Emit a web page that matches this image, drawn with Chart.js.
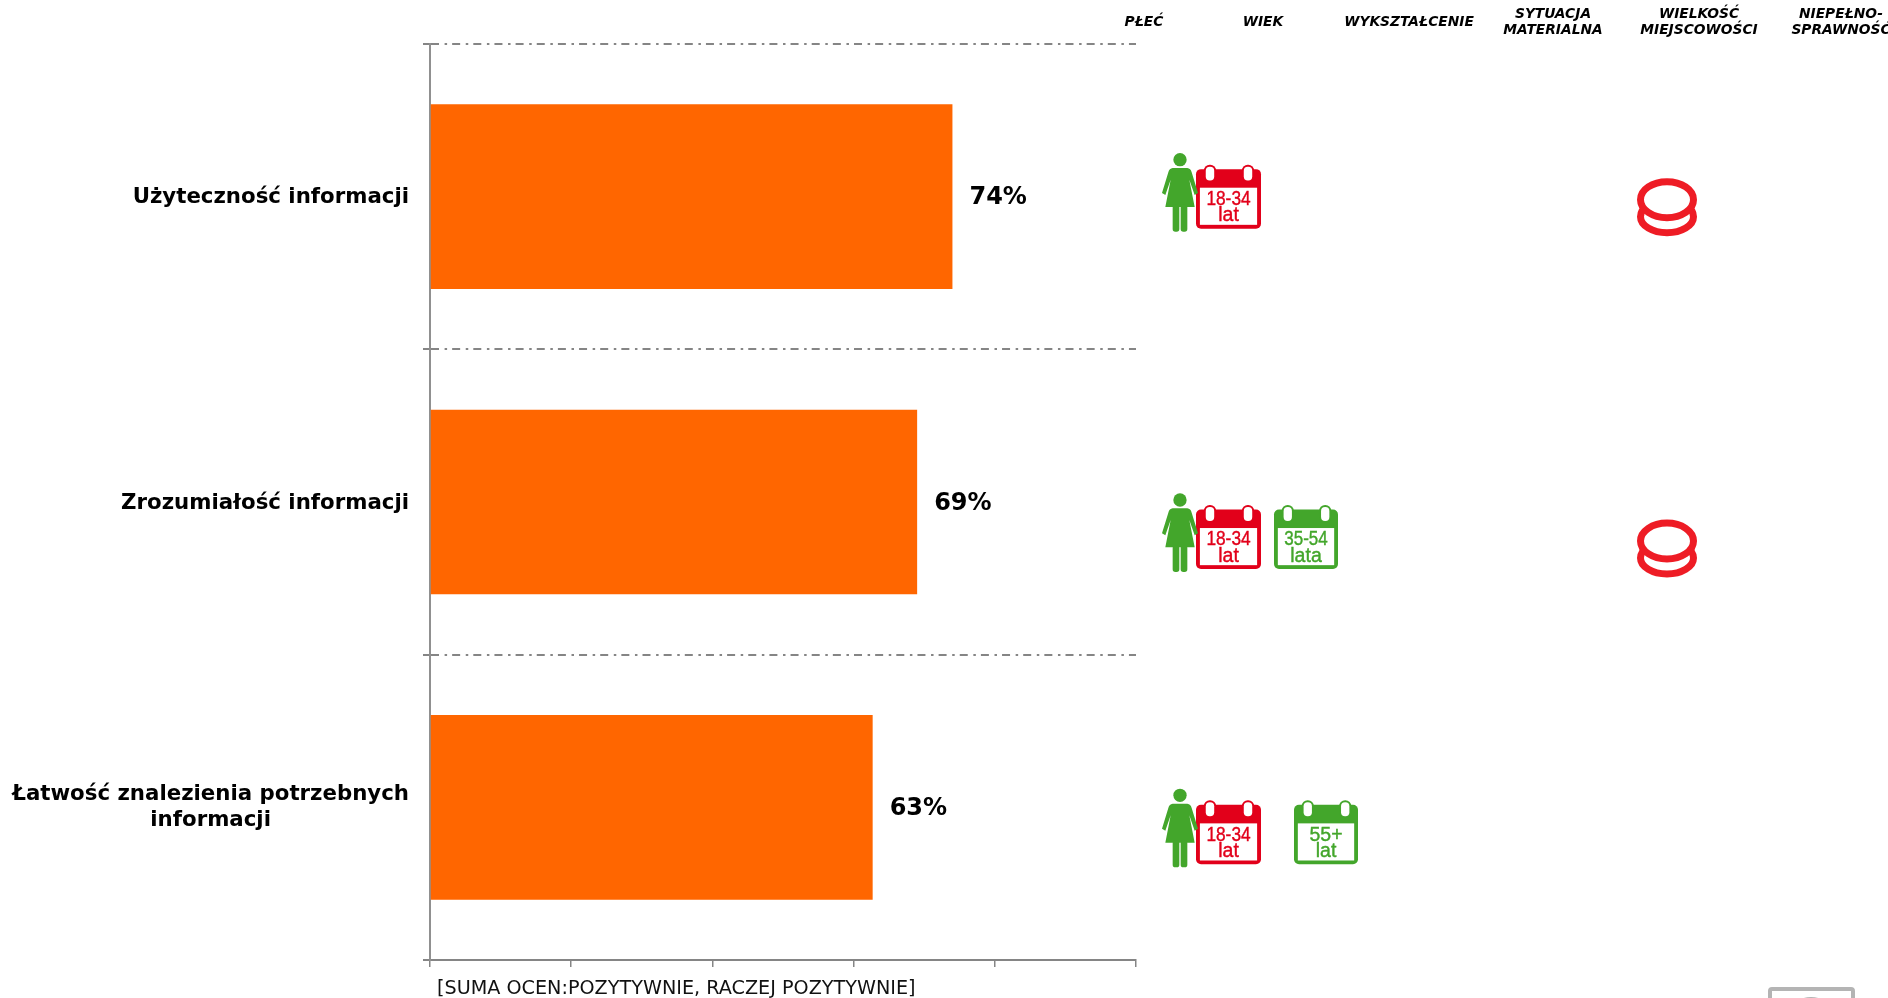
<!DOCTYPE html>
<html lang="pl">
<head>
<meta charset="utf-8">
<style>html,body{margin:0;padding:0;background:#fff;overflow:hidden}canvas{display:block}</style>
<script src="https://cdn.jsdelivr.net/npm/chart.js@4"></script>
</head>
<body>
<canvas id="c" width="1888" height="998"></canvas>
<script>
const categories = [
  ["Użyteczność informacji"],
  ["Zrozumiałość informacji"],
  ["Łatwość znalezienia potrzebnych", "informacji"]
];
const values = [74, 69, 62.7];
const axisNote = "[SUMA OCEN:POZYTYWNIE, RACZEJ POZYTYWNIE]";
const columnHeaders = [
  ["PŁEĆ"], ["WIEK"], ["WYKSZTAŁCENIE"], ["SYTUACJA", "MATERIALNA"],
  ["WIELKOŚĆ", "MIEJSCOWOŚCI"], ["NIEPEŁNO-", "SPRAWNOŚĆ"]
];
const FONT = '"DejaVu Sans", Verdana, sans-serif';
const RED = "#E2001A", GREEN = "#43A62B", COIN = "#EE1C25", GRID = "#858585";

function calendar(ctx, x, y, w, h, color, l1, l2) {
  ctx.save();
  ctx.fillStyle = color;
  ctx.beginPath();
  ctx.roundRect(x, y + 0.07 * h, w, 0.93 * h, 5);
  ctx.fill();
  ctx.fillStyle = "#fff";
  ctx.fillRect(x + 0.06 * w, y + 0.36 * h, 0.88 * w, 0.58 * h);
  for (const f of [0.15, 0.735]) {
    ctx.beginPath();
    ctx.roundRect(x + f * w - 2, y, 0.13 * w + 4, 0.28 * h, 6);
    ctx.fillStyle = color;
    ctx.fill();
    ctx.beginPath();
    ctx.roundRect(x + f * w, y + 2, 0.13 * w, 0.28 * h - 4, 4);
    ctx.fillStyle = "#fff";
    ctx.fill();
  }
  ctx.fillStyle = color;
  ctx.strokeStyle = color;
  ctx.lineWidth = 0.4;
  ctx.font = '19.5px "Liberation Sans", sans-serif';
  ctx.textAlign = "center";
  ctx.textBaseline = "alphabetic";
  ctx.fillText(l1, x + w / 2, y + 0.63 * h, 0.68 * w);
  ctx.strokeText(l1, x + w / 2, y + 0.63 * h, 0.68 * w);
  ctx.fillText(l2, x + w / 2, y + 0.885 * h, 0.68 * w);
  ctx.strokeText(l2, x + w / 2, y + 0.885 * h, 0.68 * w);
  ctx.restore();
}

function woman(ctx, x, y) {
  ctx.save();
  ctx.translate(x - 40, y - 30);
  ctx.scale(1 / 3, 1 / 3);
  ctx.fillStyle = GREEN;
  ctx.beginPath();
  ctx.arc(120, 90, 20, 0, Math.PI * 2);
  ctx.fill();
  ctx.beginPath();
  ctx.moveTo(98, 115);
  ctx.lineTo(142, 115);
  ctx.quadraticCurveTo(152, 116, 155, 128);
  ctx.lineTo(174, 190);
  ctx.lineTo(164, 196);
  ctx.lineTo(148, 150);
  ctx.lineTo(164, 232);
  ctx.lineTo(76, 232);
  ctx.lineTo(92, 150);
  ctx.lineTo(76, 196);
  ctx.lineTo(66, 190);
  ctx.lineTo(85, 128);
  ctx.quadraticCurveTo(88, 116, 98, 115);
  ctx.fill();
  ctx.beginPath();
  ctx.roundRect(98, 225, 20, 81, 8);
  ctx.roundRect(122, 225, 20, 81, 8);
  ctx.fill();
  ctx.restore();
}

function coins(ctx, cx, cy) {
  ctx.save();
  ctx.strokeStyle = COIN;
  ctx.lineWidth = 7;
  ctx.beginPath();
  ctx.ellipse(cx, cy + 18, 26.5, 16, 0, 0, Math.PI * 2);
  ctx.stroke();
  ctx.beginPath();
  ctx.ellipse(cx, cy + 1, 26.5, 18, 0, 0, Math.PI * 2);
  ctx.fillStyle = "#fff";
  ctx.fill();
  ctx.stroke();
  ctx.restore();
}

const overlay = {
  id: "overlay",
  afterDraw(chart) {
    const ctx = chart.ctx, y = chart.scales.y;
    ctx.save();
    // category labels, each centred on its own block
    ctx.fillStyle = "#000";
    ctx.font = "bold 21.3px " + FONT;
    ctx.textAlign = "center";
    ctx.textBaseline = "middle";
    categories.forEach((lines, i) => {
      const py = y.getPixelForTick(i);
      const w = Math.max(...lines.map(l => ctx.measureText(l).width));
      const dy = lines.length > 1 ? 0 : 1;
      lines.forEach((l, k) => {
        ctx.fillText(l, 409 - w / 2, py + dy + (k - (lines.length - 1) / 2) * 25.5);
      });
    });
    // value labels
    ctx.font = "bold 24px " + FONT;
    ctx.textAlign = "left";
    chart.getDatasetMeta(0).data.forEach((bar, i) => {
      ctx.fillText(Math.round(values[i]) + "%", bar.x + 17, bar.y + 1.5);
    });
    // note below the axis
    ctx.font = "19.2px " + FONT;
    ctx.textBaseline = "alphabetic";
    ctx.fillStyle = "#111";
    ctx.fillText(axisNote, 437, 994);
    // column headers
    ctx.font = "italic bold 13.8px " + FONT;
    ctx.fillStyle = "#000";
    ctx.textAlign = "center";
    ctx.textBaseline = "middle";
    const hx = [1144, 1263, 1409, 1553, 1699, 1841];
    columnHeaders.forEach((lines, i) => {
      lines.forEach((l, k) => {
        const yy = lines.length === 1 ? 22.5 : 14.5 + k * 16;
        ctx.fillText(l, hx[i], yy);
      });
    });
    ctx.restore();

    // icons
    const r0 = y.getPixelForTick(0), r1 = y.getPixelForTick(1), r2 = y.getPixelForTick(2);
    calendar(ctx, 1196, r0 - 32, 65, 64, RED, "18-34", "lat");
    woman(ctx, 1180, r0 - 37);
    coins(ctx, 1667, r0 + 2);
    calendar(ctx, 1196, r1 + 3, 65, 64, RED, "18-34", "lat");
    woman(ctx, 1180, r1 - 2);
    calendar(ctx, 1274, r1 + 3, 64, 64, GREEN, "35-54", "lata");
    coins(ctx, 1667, r1 + 38);
    calendar(ctx, 1196, r2 - 7, 65, 64, RED, "18-34", "lat");
    woman(ctx, 1180, r2 - 12);
    calendar(ctx, 1294, r2 - 7, 64, 64, GREEN, "55+", "lat");

    // cropped logo frame in the bottom-right corner
    ctx.save();
    ctx.strokeStyle = "#b4b4b4";
    ctx.lineWidth = 4;
    ctx.beginPath();
    ctx.roundRect(1770, 989, 83, 40, 2);
    ctx.stroke();
    ctx.fillStyle = "#b4b4b4";
    ctx.beginPath();
    ctx.ellipse(1811, 1004, 14, 7, 0, 0, Math.PI * 2);
    ctx.fill();
    ctx.restore();
  }
};

new Chart(document.getElementById("c"), {
  type: "bar",
  data: {
    labels: categories,
    datasets: [{
      data: values,
      backgroundColor: "#FF6600",
      borderWidth: 0,
      categoryPercentage: 0.605,
      barPercentage: 1
    }]
  },
  options: {
    indexAxis: "y",
    responsive: false,
    animation: false,
    layout: { padding: { left: 423, right: 752, top: 44, bottom: 31 } },
    plugins: { legend: { display: false }, tooltip: { enabled: false }, title: { display: false } },
    scales: {
      x: {
        min: 0, max: 100,
        ticks: { stepSize: 20, display: false },
        afterFit: s => { s.height = 7; },
        grid: { display: true, drawOnChartArea: false, drawTicks: true, tickLength: 7, color: GRID, lineWidth: 1.5 },
        border: { display: true, color: GRID, width: 2 }
      },
      y: {
        type: "category",
        ticks: { display: false },
        afterFit: s => { s.width = 7; },
        grid: {
          offset: true, display: true, drawTicks: true, tickLength: 7,
          color: GRID, lineWidth: 2
        },
        border: { display: true, color: "#909090", width: 2, dash: [8, 5.6, 2.5, 5.05], dashOffset: 0 }
      }
    }
  },
  plugins: [overlay]
});
</script>
</body>
</html>
